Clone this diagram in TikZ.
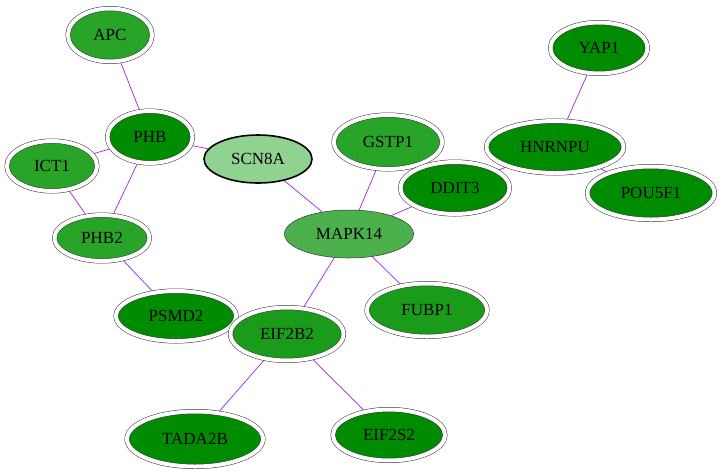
\documentclass[tikz,border=0pt]{standalone}
\usepackage{fontspec}
\setmainfont{Liberation Serif}
\usetikzlibrary{shapes.geometric,backgrounds}

\definecolor{dkgreen}{HTML}{008C00}
\definecolor{mdgreen}{HTML}{1A9C1A}
\definecolor{ltgreen}{HTML}{28A428}
\definecolor{mapkgreen}{HTML}{4CB04C}
\definecolor{scngreen}{HTML}{90D290}
\definecolor{edgepurple}{HTML}{A020F0}

\tikzset{
  gene/.style={ellipse, draw=black!80, line width=0.5pt, double=white,
    double distance=4pt, inner sep=0pt, font=\fontsize{17}{19}\selectfont},
  plain/.style={ellipse, draw=black!80, line width=0.5pt, inner sep=0pt,
    font=\fontsize{17}{19}\selectfont},
  link/.style={draw=edgepurple, line width=0.7pt}
}

\begin{document}
\begin{tikzpicture}[x=1pt,y=-1pt]
  \useasboundingbox (0,0) rectangle (723,475);

  % nodes
  \node[gene, fill=ltgreen, minimum width=84, minimum height=53] (APC) at (110,35) {APC};
  \node[gene, fill=dkgreen, minimum width=85, minimum height=52] (PHB) at (150,137) {PHB};
  \node[gene, fill=ltgreen, minimum width=90, minimum height=50] (ICT1) at (52,166) {ICT1};
  \node[plain, fill=scngreen, line width=1.6pt, draw=black, minimum width=108, minimum height=48] (SCN8A) at (258,159) {SCN8A};
  \node[gene, fill=ltgreen, minimum width=95, minimum height=46] (PHB2) at (102,238) {PHB2};
  \node[gene, fill=dkgreen, minimum width=120, minimum height=50] (PSMD2) at (176,316) {PSMD2};
  \node[gene, fill=ltgreen, minimum width=108, minimum height=54] (GSTP1) at (388,142) {GSTP1};
  \node[gene, fill=dkgreen, minimum width=109, minimum height=52] (DDIT3) at (455,188) {DDIT3};
  \node[gene, fill=dkgreen, minimum width=137, minimum height=52] (HNRNPU) at (555,147) {HNRNPU};
  \node[gene, fill=dkgreen, minimum width=97, minimum height=51] (YAP1) at (599,48) {YAP1};
  \node[gene, fill=dkgreen, minimum width=127, minimum height=53] (POU5F1) at (651,193) {POU5F1};
  \node[plain, fill=mapkgreen, minimum width=129, minimum height=48] (MAPK14) at (349,234) {MAPK14};
  \node[gene, fill=mdgreen, minimum width=120, minimum height=53] (FUBP1) at (427,310) {FUBP1};
  \node[gene, fill=mdgreen, minimum width=113, minimum height=53] (EIF2B2) at (287,334) {EIF2B2};
  \node[gene, fill=dkgreen, minimum width=136, minimum height=55] (TADA2B) at (195,439) {TADA2B};
  \node[gene, fill=dkgreen, minimum width=112, minimum height=51] (EIF2S2) at (389,435) {EIF2S2};

  % edges
  \begin{scope}[on background layer]
    \draw[link] (APC) -- (PHB);
    \draw[link] (PHB) -- (ICT1);
    \draw[link] (PHB) -- (PHB2);
    \draw[link] (PHB) -- (SCN8A);
    \draw[link] (ICT1) -- (PHB2);
    \draw[link] (PHB2) -- (PSMD2);
    \draw[link] (SCN8A) -- (MAPK14);
    \draw[link] (GSTP1) -- (MAPK14);
    \draw[link] (DDIT3) -- (MAPK14);
    \draw[link] (MAPK14) -- (FUBP1);
    \draw[link] (MAPK14) -- (EIF2B2);
    \draw[link] (EIF2B2) -- (TADA2B);
    \draw[link] (EIF2B2) -- (EIF2S2);
    \draw[link] (YAP1) -- (HNRNPU);
    \draw[link] (HNRNPU) -- (DDIT3);
    \draw[link] (HNRNPU) -- (POU5F1);
  \end{scope}
\end{tikzpicture}
\end{document}
